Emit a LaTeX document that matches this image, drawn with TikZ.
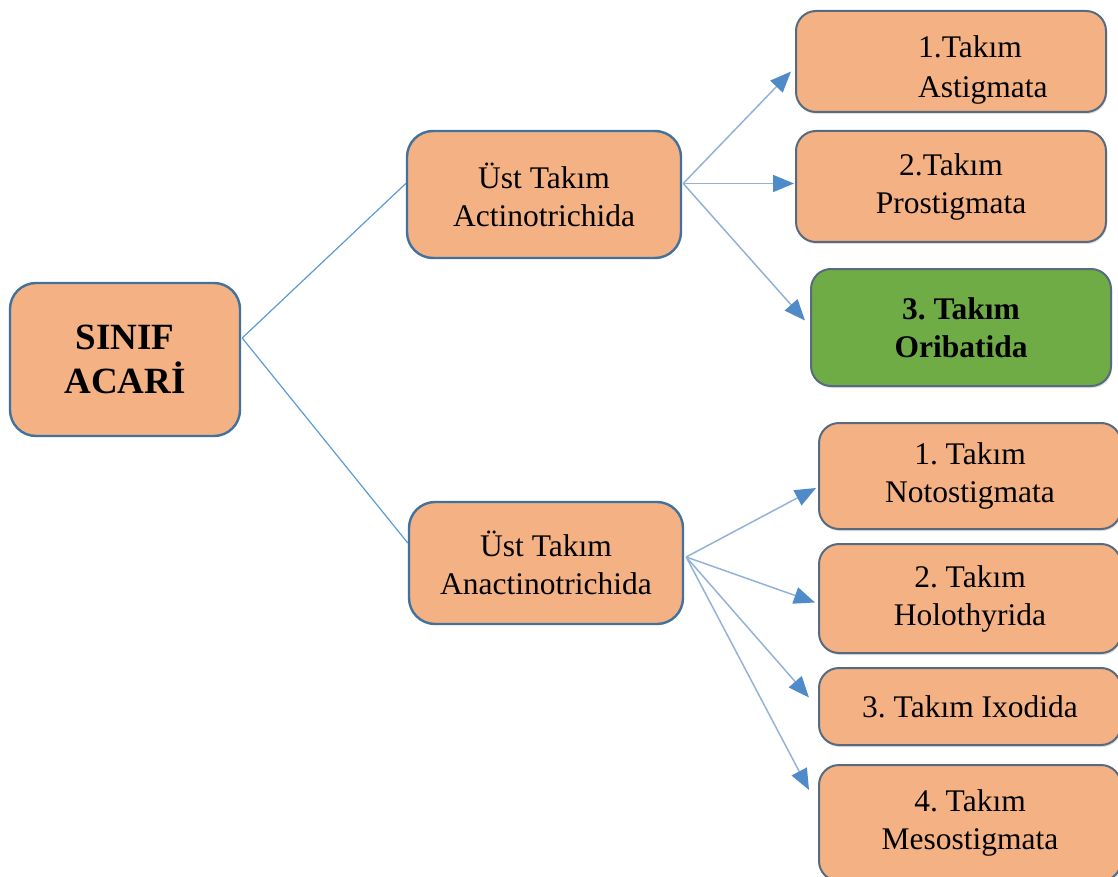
\documentclass[tikz,border=0pt]{standalone}
\usepackage{fontspec}
\setmainfont{Liberation Serif}
\usetikzlibrary{arrows.meta,calc,shadows}
\definecolor{boxfill}{HTML}{F4B183}
\definecolor{leftborder}{HTML}{41719C}
\definecolor{rightborder}{HTML}{566B80}
\definecolor{greenfill}{HTML}{6FAC46}
\definecolor{linkblue}{HTML}{5B9BD5}
\definecolor{arrowline}{HTML}{93B3D6}
\definecolor{tipblue}{HTML}{4E8BC8}
\begin{document}
\frenchspacing
\begin{tikzpicture}[x=1pt,y=-1pt,
  base/.style={rectangle, rounded corners=26pt, align=center, inner sep=0pt,
    font=\fontsize{31.5}{38}\selectfont},
  leftbox/.style={base, draw=leftborder, line width=2.4pt, fill=boxfill},
  rightbox/.style={base, rounded corners=20pt, draw=rightborder, line width=2pt, fill=boxfill,
    drop shadow={shadow xshift=1pt, shadow yshift=-2pt, opacity=0.25, fill=gray}},
  greenbox/.style={rightbox, fill=greenfill, font=\fontsize{31.5}{38}\selectfont\bfseries},
  link/.style={draw=linkblue, line width=1.2pt},
  arrow/.style={draw=arrowline, line width=1.5pt,
    -{Triangle[length=21pt,width=17pt,color=tipblue,fill=tipblue]}},
  boxtext/.style={font=\fontsize{31.5}{40}\selectfont, align=left, inner sep=0pt}
]
\useasboundingbox (0,0) rectangle (1118,877);

% left box
\node[leftbox, minimum width=230pt, minimum height=153pt,
  font=\fontsize{37}{44}\selectfont\bfseries] (acari) at (125,359.5) {SINIF\\ACARİ};

% middle boxes
\node[leftbox, minimum width=274pt, minimum height=127pt] (act) at (544,194.5) {Üst Takım\\Actinotrichida};
\node[leftbox, minimum width=274pt, minimum height=122pt] (anact) at (546,563) {Üst Takım\\Anactinotrichida};

% right boxes, upper group
\node[rightbox, minimum width=310pt, minimum height=101pt] (ast) at (951,61.5) {};
\node[boxtext, anchor=west] (astt) at (918,70) {1.Takım\\Astigmata};
\node[rightbox, minimum width=310pt, minimum height=111pt] (pro) at (951,186.5) {2.Takım\\Prostigmata};
\node[greenbox, minimum width=300pt, minimum height=117pt] (ori) at (961,327.5) {3. Takım\\Oribatida};

% right boxes, lower group
\node[rightbox, minimum width=302pt, minimum height=106pt] (noto) at (970,476) {1. Takım\\Notostigmata};
\node[rightbox, minimum width=302pt, minimum height=109pt] (holo) at (970,598.5) {2. Takım\\Holothyrida};
\node[rightbox, minimum width=302pt, minimum height=77pt] (ixo) at (970,706.5) {3. Takım Ixodida};
\node[rightbox, minimum width=302pt, minimum height=116pt] (meso) at (970,823) {4. Takım\\Mesostigmata};

% links from the class box
\draw[link] ($(acari.east)+(1,-21.5)$) -- ($(act.west)+(0,-11)$);
\draw[link] ($(acari.east)+(1,-21.5)$) -- ($(anact.west)+(0,-20)$);

% arrows from Actinotrichida
\draw[arrow] ($(act.east)+(1,-11)$) -- ($(ast.west)+(-4,10)$);
\draw[arrow] ($(act.east)+(1,-11)$) -- ($(pro.west)+(-1,-3)$);
\draw[arrow] ($(act.east)+(1,-11)$) -- ($(ori.west)+(-5,-7)$);

% arrows from Anactinotrichida
\draw[arrow] ($(anact.east)+(2,-6)$) -- ($(noto.west)+(-2,12)$);
\draw[arrow] ($(anact.east)+(2,-6)$) -- ($(holo.west)+(-3,4)$);
\draw[arrow] ($(anact.east)+(2,-6)$) -- ($(ixo.west)+(-9,-9)$);
\draw[arrow] ($(anact.east)+(2,-6)$) -- ($(meso.west)+(-9,-33)$);
\end{tikzpicture}
\end{document}
